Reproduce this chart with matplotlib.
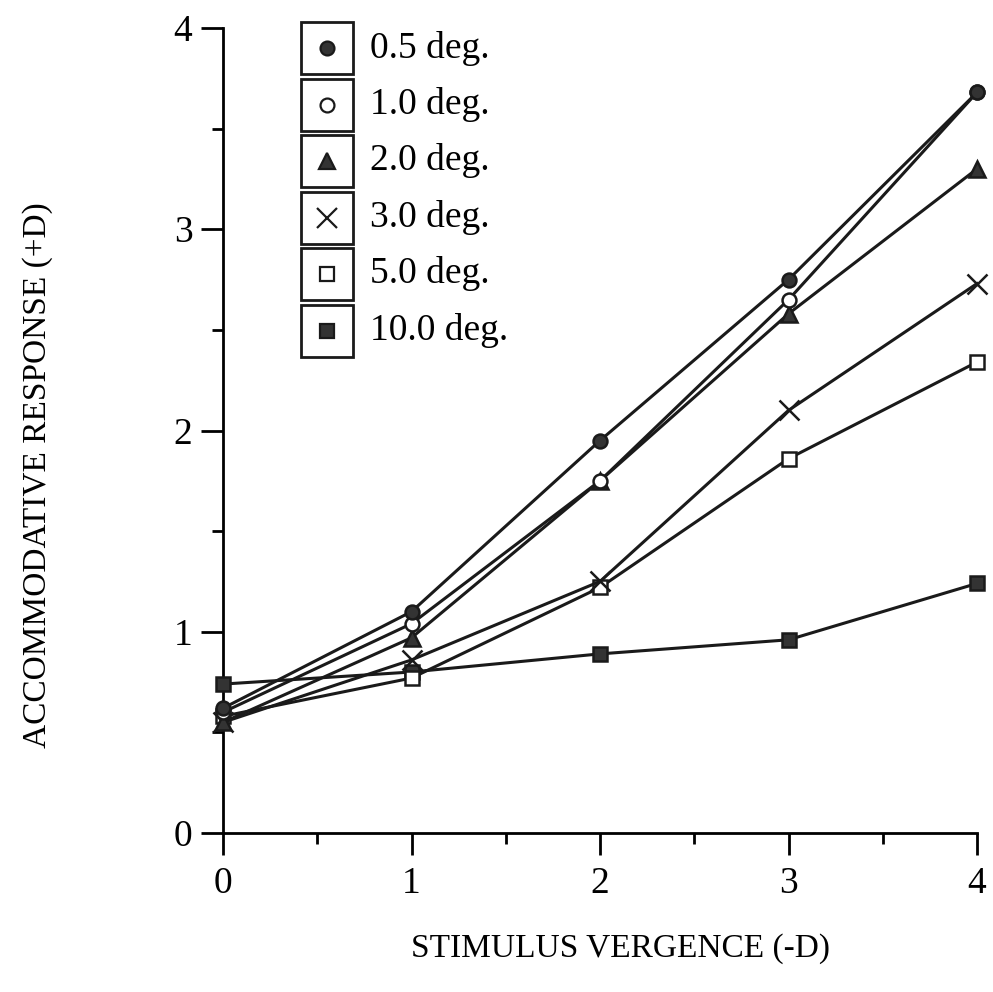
import matplotlib
matplotlib.use("Agg")
import matplotlib.pyplot as plt
from matplotlib.patches import Rectangle
from matplotlib.lines import Line2D
from matplotlib.ticker import MultipleLocator

plt.rcParams['font.family'] = ['Liberation Serif', 'DejaVu Serif']

# stimulus vergence (-D)
vergence = [0, 1, 2, 3, 4]

# accommodative response (+D) per target size
labels = ["0.5 deg.", "1.0 deg.", "2.0 deg.", "3.0 deg.", "5.0 deg.", "10.0 deg."]
resp_05 = [0.62, 1.10, 1.95, 2.75, 3.68]
resp_10 = [0.60, 1.04, 1.75, 2.65, 3.68]
resp_20 = [0.55, 0.97, 1.75, 2.58, 3.30]
resp_30 = [0.55, 0.86, 1.25, 2.10, 2.73]
resp_50 = [0.58, 0.77, 1.22, 1.86, 2.34]
resp_100 = [0.74, 0.80, 0.89, 0.96, 1.24]
series = [resp_05, resp_10, resp_20, resp_30, resp_50, resp_100]

# marker styles: (marker, facecolor, size)
styles = [("o", "#333333", 10),
          ("o", "white", 10),
          ("^", "#333333", 11),
          ("x", "#222222", 14),
          ("s", "white", 10.5),
          ("s", "#333333", 10.5)]

fig = plt.figure(figsize=(9.93, 9.92), dpi=100)
ax = fig.add_axes([223 / 993, 1 - 833 / 992, (977 - 223) / 993, (833 - 28) / 992])

# draw in reverse so the first series sits on top
for vals, (m, fc, ms) in reversed(list(zip(series, styles))):
    ax.plot(vergence, vals, color="#1a1a1a", lw=2.2, marker=m, markersize=ms,
            markerfacecolor=fc, markeredgecolor="#1a1a1a", markeredgewidth=1.8,
            clip_on=False, zorder=3)

ax.set_xlim(0, 4)
ax.set_ylim(0, 4)
ax.spines['top'].set_visible(False)
ax.spines['right'].set_visible(False)
for s in ['left', 'bottom']:
    ax.spines[s].set_linewidth(2)

ax.xaxis.set_major_locator(MultipleLocator(1))
ax.xaxis.set_minor_locator(MultipleLocator(0.5))
ax.yaxis.set_major_locator(MultipleLocator(1))
ax.yaxis.set_minor_locator(MultipleLocator(0.5))
ax.tick_params(axis='both', which='major', direction='out', length=16, width=2,
               labelsize=27)
ax.tick_params(axis='both', which='minor', direction='out', length=8, width=2)
ax.tick_params(axis='x', which='major', pad=8)
ax.tick_params(axis='y', which='major', pad=6)

ax.set_xlabel("STIMULUS VERGENCE (-D)", fontsize=24)
ax.set_ylabel("ACCOMMODATIVE RESPONSE (+D)", fontsize=24)
ax.xaxis.set_label_coords(0.527, -0.125)
ax.yaxis.set_label_coords(-0.226, 0.445)

# legend: one framed box per entry
box_w, box_h = 52 / 993, 52 / 992
box_x = 301 / 993
centers = [48, 104.5, 161, 217.5, 274, 330.5]
for lab, (m, fc, ms), cy in zip(labels, styles, centers):
    yc = 1 - cy / 992
    fig.add_artist(Rectangle((box_x, yc - box_h / 2), box_w, box_h,
                             transform=fig.transFigure, fill=False,
                             edgecolor="#1a1a1a", lw=2))
    fig.add_artist(Line2D([box_x + box_w / 2], [yc], transform=fig.transFigure,
                          marker=m, markersize=ms, markerfacecolor=fc,
                          markeredgecolor="#1a1a1a", markeredgewidth=1.6,
                          linestyle="none"))
    fig.text(370 / 993, yc, lab, fontsize=27, va="center", ha="left")

fig.savefig("out.png", dpi=100)
